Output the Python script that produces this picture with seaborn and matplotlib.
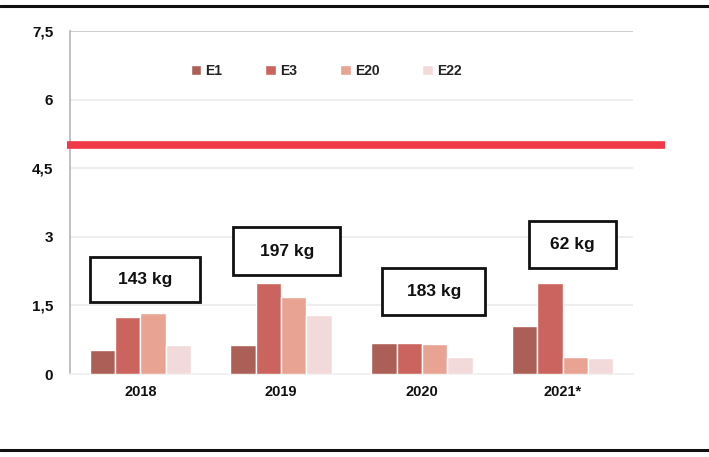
import pandas as pd
import matplotlib.pyplot as plt
from matplotlib.patches import Rectangle
from matplotlib.lines import Line2D
import seaborn as sns

# ── Data ───────────────────────────────────────────────────────────
years  = ['2018', '2019', '2020', '2021*']
series = ['E1', 'E3', 'E20', 'E22']
e1  = [0.52, 0.63, 0.68, 1.05]
e3  = [1.25, 2.00, 0.68, 1.98]
e20 = [1.33, 1.68, 0.65, 0.37]
e22 = [0.63, 1.29, 0.37, 0.35]
totals = ['143 kg', '197 kg', '183 kg', '62 kg']
limit = 5.0
yticks = [0, 1.5, 3, 4.5, 6, 7.5]

# ── Style ──────────────────────────────────────────────────────────
PALETTE = ['#AC5F57', '#CB645E', '#E9A393', '#F3DADA']
RED     = '#F03A48'
GRID    = '#EBEBEB'

sns.set_theme(style='white')
plt.rcParams['font.family'] = ['Liberation Sans', 'DejaVu Sans']

df = pd.DataFrame({
    'year'  : years * 4,
    'series': [s for s in series for _ in years],
    'value' : e1 + e3 + e20 + e22,
})

fig = plt.figure(figsize=(7.09, 4.57), dpi=100)
ax = fig.add_axes([0.0987, 0.1816, 0.7941, 0.7504])

sns.barplot(data=df, x='year', y='value', hue='series', palette=PALETTE,
            width=0.72, saturation=1, gap=0, ax=ax, zorder=3)

ax.set_ylim(0, 7.5)
ax.set_xlim(-0.5, 3.5)
ax.set_yticks(yticks)
ax.set_yticklabels([f'{t:g}'.replace('.', ',') for t in yticks],
                   fontsize=11, fontweight='bold', color='#111111')
plt.setp(ax.get_xticklabels(), fontsize=10.5, fontweight='bold', color='#111111')
ax.tick_params(axis='y', pad=12, length=0)
ax.tick_params(axis='x', pad=8, length=0)
ax.set_xlabel('')
ax.set_ylabel('')

for y in yticks[1:]:
    ax.axhline(y, color=GRID if y < 7.5 else '#C4C4C4', lw=1.2, zorder=1)
for s in ['top', 'right']:
    ax.spines[s].set_visible(False)
ax.spines['left'].set_color('#B8B8B8')
ax.spines['bottom'].set_color('#EFEFEF')

# Limit line
ax.axhline(limit, xmin=-0.006, xmax=1.057, color=RED, lw=5.5,
           solid_capstyle='butt', clip_on=False, zorder=4)

# Total boxes (layout positions in data units)
box_pos = [(-0.355, 1.57, 0.78, 0.99), (0.66, 2.17, 0.76, 1.04),
           (1.72, 1.29, 0.73, 1.03), (2.76, 2.32, 0.62, 1.03)]
for (bx, by, bw, bh), txt in zip(box_pos, totals):
    ax.add_patch(Rectangle((bx, by), bw, bh, facecolor='white',
                           edgecolor='#111111', lw=2, zorder=5))
    ax.text(bx + bw / 2, by + bh / 2, txt, ha='center', va='center',
            fontsize=12.5, fontweight='bold', color='#111111', zorder=6)

# Legend
handles, labels = ax.get_legend_handles_labels()
leg = ax.legend(handles, labels, loc='center', bbox_to_anchor=(0.455, 0.885),
                ncol=4, frameon=False, handlelength=0.75, handleheight=0.75,
                handletextpad=0.3, columnspacing=3.1,
                prop={'size': 10, 'weight': 'bold'})
for t in leg.get_texts():
    t.set_color('#222222')

# Page frame lines (top / bottom)
fig.add_artist(Line2D([0, 1], [0.987, 0.987], color='#111111', lw=2.2))
fig.add_artist(Line2D([0, 1], [0.016, 0.016], color='#111111', lw=2.2))

fig.savefig('out.png', dpi=100, facecolor='white')
